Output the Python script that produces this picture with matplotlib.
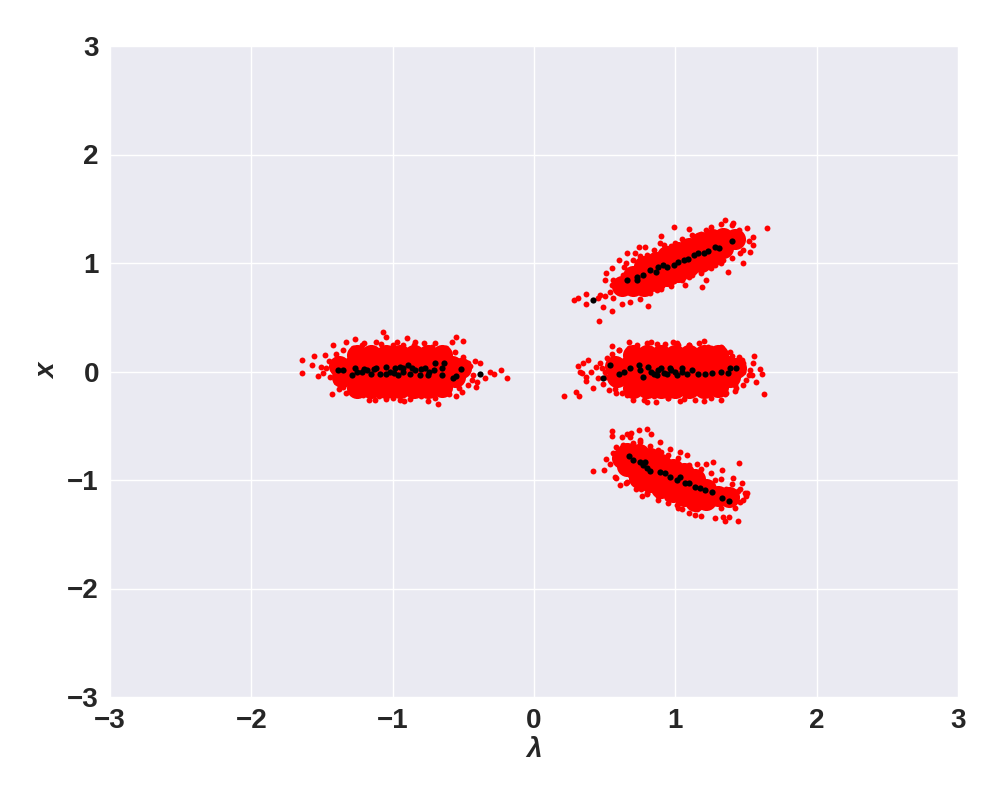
import numpy as np
import matplotlib.pyplot as plt

# red cloud, dense middle of each cluster (drawn with a fat marker to fill it in)
left_core = [(-1.25, 0.15), (-1.15, 0.15), (-1.05, 0.15), (-0.95, 0.15), (-0.85, 0.15), (-0.75, 0.15), (-0.65, 0.15),
             (-1.38, 0.05), (-1.28, 0.05), (-1.18, 0.05), (-1.08, 0.05), (-0.98, 0.05), (-0.88, 0.05),
             (-0.78, 0.05), (-0.68, 0.05), (-0.58, 0.05), (-0.52, 0.03),
             (-1.36, -0.05), (-1.26, -0.05), (-1.16, -0.05), (-1.06, -0.05), (-0.96, -0.05), (-0.86, -0.05),
             (-0.76, -0.05), (-0.66, -0.05), (-0.56, -0.05),
             (-1.25, -0.15), (-1.15, -0.15), (-1.05, -0.15), (-0.95, -0.15), (-0.85, -0.15), (-0.75, -0.15),
             (-0.65, -0.14)]
mid_core = [(0.70, 0.15), (0.80, 0.15), (0.90, 0.15), (1.00, 0.15), (1.10, 0.15), (1.20, 0.15), (1.30, 0.15),
            (0.57, 0.05), (0.67, 0.05), (0.77, 0.05), (0.87, 0.05), (0.97, 0.05), (1.07, 0.05),
            (1.17, 0.05), (1.27, 0.05), (1.37, 0.05), (1.43, 0.03),
            (0.59, -0.05), (0.69, -0.05), (0.79, -0.05), (0.89, -0.05), (0.99, -0.05), (1.09, -0.05),
            (1.19, -0.05), (1.29, -0.05), (1.39, -0.05),
            (0.70, -0.15), (0.80, -0.15), (0.90, -0.15), (1.00, -0.15), (1.10, -0.15), (1.20, -0.15),
            (1.30, -0.14)]
up_core = [(0.62, 0.79), (0.70, 0.79), (0.70, 0.88),
           (0.78, 0.79), (0.78, 0.88), (0.78, 0.97),
           (0.86, 0.83), (0.86, 0.92), (0.86, 1.01),
           (0.94, 0.88), (0.94, 0.97), (0.94, 1.06),
           (1.02, 0.92), (1.02, 1.01), (1.02, 1.10),
           (1.10, 0.97), (1.10, 1.055), (1.10, 1.14),
           (1.18, 1.01), (1.18, 1.10), (1.18, 1.19),
           (1.26, 1.06), (1.26, 1.14), (1.26, 1.22),
           (1.34, 1.14), (1.34, 1.23), (1.42, 1.22)]
low_core = [(0.62, -0.80), (0.66, -0.75), (0.66, -0.87),
            (0.74, -0.76), (0.74, -0.87), (0.74, -0.98),
            (0.82, -0.80), (0.82, -0.91), (0.82, -1.02),
            (0.90, -0.85), (0.90, -0.96), (0.90, -1.07),
            (0.98, -0.90), (0.98, -1.00), (0.98, -1.11),
            (1.06, -0.94), (1.06, -1.05), (1.06, -1.15),
            (1.14, -0.99), (1.14, -1.10), (1.14, -1.19),
            (1.22, -1.08), (1.22, -1.18), (1.30, -1.15), (1.38, -1.16)]

# red cloud, loose points round the edges
left_edge = [(-1.64, 0.106), (-1.64, -0.01), (-1.56, 0.14), (-1.57, 0.06), (-1.48, 0.15), (-1.42, 0.24),
             (-1.33, 0.27), (-1.27, 0.30), (-1.43, -0.21), (-1.07, 0.36), (-1.05, 0.32), (-0.90, 0.31),
             (-0.84, 0.27), (-0.68, -0.30), (-0.55, 0.32), (-0.58, 0.27), (-0.50, 0.28), (-0.38, 0.075),
             (-0.31, 0.0), (-0.23, 0.01), (-0.19, -0.06), (-0.28, -0.02), (-0.35, -0.06), (-0.41, -0.14),
             (-0.51, -0.19), (-0.55, -0.23), (-1.125, -0.26), (-0.95, -0.26), (-1.21, -0.22), (-1.35, -0.14),
             (-1.49, -0.01), (-1.51, 0.04), (-1.00, 0.24), (-0.75, 0.22), (-0.65, 0.20), (-1.15, 0.22),
             (-0.80, -0.23), (-0.65, -0.20), (-1.30, -0.18), (-1.40, -0.10), (-1.45, 0.10), (-0.45, 0.05),
             (-0.44, -0.08), (-0.60, -0.16), (-1.05, -0.25), (-0.88, -0.25), (-1.20, 0.26), (-0.70, 0.26),
             (-1.40, 0.16), (-1.35, 0.20), (-1.28, 0.22), (-1.22, 0.24), (-1.12, 0.27), (-1.08, 0.25),
             (-0.97, 0.27), (-0.93, 0.24), (-0.85, 0.24), (-0.78, 0.26), (-0.72, 0.23), (-0.62, 0.22),
             (-0.56, 0.18), (-0.50, 0.13), (-0.47, 0.08), (-0.43, -0.03), (-0.47, -0.12), (-0.53, -0.15),
             (-0.60, -0.21), (-0.70, -0.24), (-0.75, -0.27), (-0.85, -0.22), (-0.92, -0.27), (-1.00, -0.24),
             (-1.10, -0.23), (-1.17, -0.26), (-1.25, -0.22), (-1.33, -0.20), (-1.38, -0.16), (-1.44, -0.05),
             (-1.47, 0.03), (-1.42, 0.07), (-1.53, -0.04), (-0.42, 0.10), (-0.40, -0.10)]
mid_edge = [(0.21, -0.23), (0.30, -0.19), (0.32, -0.23), (0.31, 0.05), (0.35, 0.075), (0.325, 0.0),
            (0.34, -0.01), (0.38, 0.105), (0.40, 0.0), (0.37, -0.05), (0.37, -0.09), (0.42, -0.15),
            (0.47, 0.08), (0.55, 0.235), (0.675, 0.27), (0.80, -0.28), (0.86, -0.28), (0.93, 0.25),
            (1.20, 0.28), (1.14, -0.26), (1.32, -0.26), (1.32, 0.23), (1.40, 0.14), (1.47, 0.105),
            (1.56, 0.14), (1.60, 0.02), (1.61, -0.02), (1.63, -0.21), (1.43, -0.155), (1.48, 0.0),
            (1.53, 0.015), (1.54, -0.03), (1.42, -0.125), (0.66, -0.215), (0.53, -0.17), (0.49, -0.115),
            (0.70, -0.26), (1.06, -0.25), (1.01, 0.26), (0.80, 0.26), (0.50, 0.00), (0.52, 0.12),
            (0.60, 0.20), (0.58, -0.20), (1.10, 0.24), (1.25, 0.22), (1.36, -0.20), (0.95, -0.24),
            (1.50, -0.08), (0.45, -0.06),
            (0.55, 0.16), (0.60, 0.20), (0.67, 0.22), (0.73, 0.24), (0.83, 0.27), (0.87, 0.25),
            (0.98, 0.27), (1.02, 0.24), (1.10, 0.24), (1.17, 0.26), (1.23, 0.23), (1.33, 0.22),
            (1.39, 0.18), (1.45, 0.13), (1.48, 0.08), (1.52, -0.03), (1.48, -0.12), (1.42, -0.18),
            (1.35, -0.21), (1.25, -0.24), (1.20, -0.27), (1.10, -0.22), (1.03, -0.27), (0.95, -0.24),
            (0.85, -0.23), (0.78, -0.26), (0.70, -0.22), (0.62, -0.20), (0.57, -0.16), (0.51, -0.05),
            (0.48, 0.03), (0.53, 0.07), (0.44, 0.04), (1.55, 0.08), (1.57, -0.10)]
up_edge = [(0.28, 0.66), (0.31, 0.68), (0.37, 0.71), (0.37, 0.62), (0.46, 0.465), (0.49, 0.59),
           (0.81, 0.60), (0.47, 0.705), (0.56, 0.675), (0.51, 0.905), (0.50, 0.84), (0.60, 1.03),
           (0.66, 1.09), (0.74, 1.145), (0.90, 1.25), (0.99, 1.33), (1.10, 1.31), (1.22, 1.30),
           (1.35, 1.40), (1.41, 1.37), (1.505, 1.32), (1.65, 1.32), (1.55, 1.24), (1.55, 1.17),
           (1.53, 1.10), (1.48, 1.00), (1.375, 0.92), (1.22, 0.84), (1.19, 0.775), (1.07, 0.80),
           (0.99, 0.83), (0.87, 0.75), (0.75, 0.735), (0.69, 0.75), (0.61, 0.75), (0.54, 0.735),
           (0.56, 0.84), (0.63, 0.89), (0.715, 1.09), (0.785, 1.15), (0.89, 1.18), (1.13, 1.24),
           (1.29, 1.27), (1.34, 1.03), (1.46, 1.09), (1.10, 0.87), (0.58, 0.78), (0.64, 0.96),
           (0.80, 1.07), (1.00, 1.18), (1.45, 1.28), (1.28, 0.98), (0.93, 0.82),
           (0.55, 0.95), (0.65, 1.00), (0.70, 1.03), (0.75, 1.06), (0.85, 1.12), (0.92, 1.17),
           (0.97, 1.16), (1.05, 1.22), (1.12, 1.26), (1.18, 1.27), (1.25, 1.33), (1.32, 1.36),
           (1.40, 1.35), (1.45, 1.30),
           (0.55, 0.56), (0.62, 0.62), (0.68, 0.64), (0.75, 0.67), (0.82, 0.72), (0.90, 0.76),
           (0.97, 0.79), (1.05, 0.84), (1.12, 0.89), (1.18, 0.91), (1.25, 0.95), (1.32, 1.00),
           (1.40, 1.05), (1.48, 1.12), (1.52, 1.20), (0.50, 0.70), (0.45, 0.68), (0.55, 0.80)]
low_edge = [(0.42, -0.92), (0.495, -0.91), (0.555, -0.59), (0.655, -0.575), (0.685, -0.57), (0.74, -0.54),
            (0.80, -0.53), (0.83, -0.58), (0.70, -0.66), (0.63, -0.68), (0.56, -0.755), (0.51, -0.81),
            (0.54, -0.85), (0.57, -0.97), (0.61, -1.05), (0.655, -1.015), (0.76, -1.08), (0.765, -1.15),
            (0.88, -1.15), (1.01, -1.23), (1.05, -1.27), (1.14, -1.32), (1.15, -1.27), (1.22, -1.245),
            (1.32, -1.26), (1.34, -1.34), (1.38, -1.34), (1.44, -1.38), (1.42, -1.26), (1.48, -1.18),
            (1.49, -1.12), (1.505, -1.12), (1.47, -1.025), (1.45, -0.84), (1.41, -0.985), (1.33, -0.91),
            (1.27, -0.83), (1.22, -0.85), (1.15, -0.85), (1.08, -0.77), (1.03, -0.74), (0.96, -0.71),
            (0.89, -0.65), (1.385, -1.15), (1.29, -1.20), (1.10, -1.18), (0.94, -1.17), (0.80, -1.12),
            (0.61, -0.815), (0.58, -0.70), (0.68, -0.95), (1.36, -1.08), (1.40, -1.20), (1.28, -1.00),
            (0.90, -0.74), (0.75, -0.63),
            (0.55, -0.55), (0.62, -0.60), (0.68, -0.60), (0.75, -0.65), (0.82, -0.69), (0.88, -0.72),
            (0.95, -0.77), (1.02, -0.80), (1.10, -0.86), (1.18, -0.90), (1.25, -0.94), (1.32, -0.99),
            (1.40, -1.04), (1.46, -1.08),
            (0.58, -0.98), (0.65, -1.03), (0.72, -1.08), (0.80, -1.13), (0.88, -1.18), (0.95, -1.21),
            (1.02, -1.26), (1.10, -1.30), (1.18, -1.33), (1.28, -1.35), (1.35, -1.38),
            (1.46, -1.20), (1.50, -1.15), (1.44, -1.10), (1.43, -1.16)]

# black points along the middle of each cluster
left_black = [(-1.385, 0.01), (-1.35, 0.01), (-1.29, -0.03), (-1.27, 0.03), (-1.22, 0.0), (-1.185, 0.01),
              (-1.15, -0.02), (-1.115, 0.03), (-1.09, -0.02), (-1.05, 0.045), (-1.02, 0.0), (-0.98, 0.03),
              (-0.96, -0.03), (-0.925, 0.03), (-0.89, 0.06), (-0.88, -0.02), (-0.84, 0.01), (-0.81, -0.03),
              (-0.77, 0.03), (-0.75, -0.03), (-0.71, 0.01), (-0.70, 0.075), (-0.64, 0.075), (-0.65, 0.03),
              (-0.65, -0.03), (-0.52, 0.02), (-0.55, -0.04), (-0.575, -0.06), (-0.38, -0.025),
              (-1.20, 0.02), (-1.05, -0.02), (-0.99, -0.01), (-0.93, 0.0), (-0.86, 0.03), (-0.80, 0.02),
              (-0.74, 0.0), (-1.13, 0.02), (-1.25, 0.0), (-0.95, 0.04)]
mid_black = [(0.49, -0.06), (0.54, 0.06), (0.60, -0.02), (0.64, 0.0), (0.68, 0.03), (0.74, 0.06),
             (0.75, 0.015), (0.77, -0.05), (0.81, 0.045), (0.83, 0.0), (0.87, -0.03), (0.90, 0.03),
             (0.94, -0.02), (0.97, 0.015), (1.01, -0.03), (1.045, 0.03), (1.08, -0.02), (1.115, 0.015),
             (1.16, -0.02), (1.21, -0.02), (1.26, -0.01), (1.32, 0.0), (1.375, -0.01), (1.39, 0.03),
             (1.43, 0.03), (0.88, 0.01), (0.92, -0.01), (1.00, 0.0), (1.05, 0.0), (0.96, 0.03), (0.85, -0.02)]
up_black = [(0.42, 0.66), (0.66, 0.84), (0.73, 0.87), (0.73, 0.84), (0.77, 0.89), (0.82, 0.935),
            (0.86, 0.92), (0.88, 0.965), (0.915, 0.98), (0.94, 0.96), (0.99, 0.98), (1.02, 1.01),
            (1.06, 1.03), (1.09, 1.04), (1.13, 1.07), (1.16, 1.09), (1.20, 1.095), (1.23, 1.11),
            (1.28, 1.15), (1.31, 1.135), (1.40, 1.20)]
low_black = [(0.675, -0.78), (0.70, -0.815), (0.75, -0.83), (0.77, -0.86), (0.80, -0.89), (0.82, -0.92),
             (0.89, -0.93), (0.93, -0.94), (0.96, -0.97), (1.01, -1.00), (1.03, -0.975), (1.07, -1.025),
             (1.10, -1.03), (1.14, -1.06), (1.175, -1.075), (1.21, -1.09), (1.26, -1.11), (1.33, -1.17),
             (1.38, -1.19), (0.785, -0.83)]

core = np.array(left_core + mid_core + up_core + low_core)
edge = np.array(left_edge + mid_edge + up_edge + low_edge)
black = np.array(left_black + mid_black + up_black + low_black)

plt.rcParams['font.family'] = ['Liberation Sans', 'DejaVu Sans']
plt.rcParams['font.weight'] = 'bold'

fig = plt.figure(figsize=(10, 8), dpi=100)
ax = fig.add_axes([0.11, 0.12875, 0.848, 0.81375])
ax.set_facecolor('#EAEAF2')
for s in ax.spines.values():
    s.set_visible(False)
ax.grid(True, color='white', linewidth=1.0)
ax.set_axisbelow(True)

ax.scatter(core[:, 0], core[:, 1], s=230, c='red', linewidths=0)
ax.scatter(edge[:, 0], edge[:, 1], s=18, c='red', linewidths=0)
ax.scatter(black[:, 0], black[:, 1], s=20, c='black', linewidths=0)

ax.set_xlim(-3, 3)
ax.set_ylim(-3, 3)
ax.set_xticks([-3, -2, -1, 0, 1, 2, 3])
ax.set_yticks([-3, -2, -1, 0, 1, 2, 3])
ax.tick_params(length=0, labelsize=20, pad=8, colors='#262626')
for lab in ax.get_xticklabels() + ax.get_yticklabels():
    lab.set_fontweight('bold')
ax.set_xlabel('λ', fontsize=20, fontweight='bold', fontstyle='italic', color='#262626', labelpad=2)
ax.set_ylabel('x', fontsize=20, fontweight='bold', fontstyle='italic', color='#262626', labelpad=4)

fig.savefig('out.png', dpi=100)
